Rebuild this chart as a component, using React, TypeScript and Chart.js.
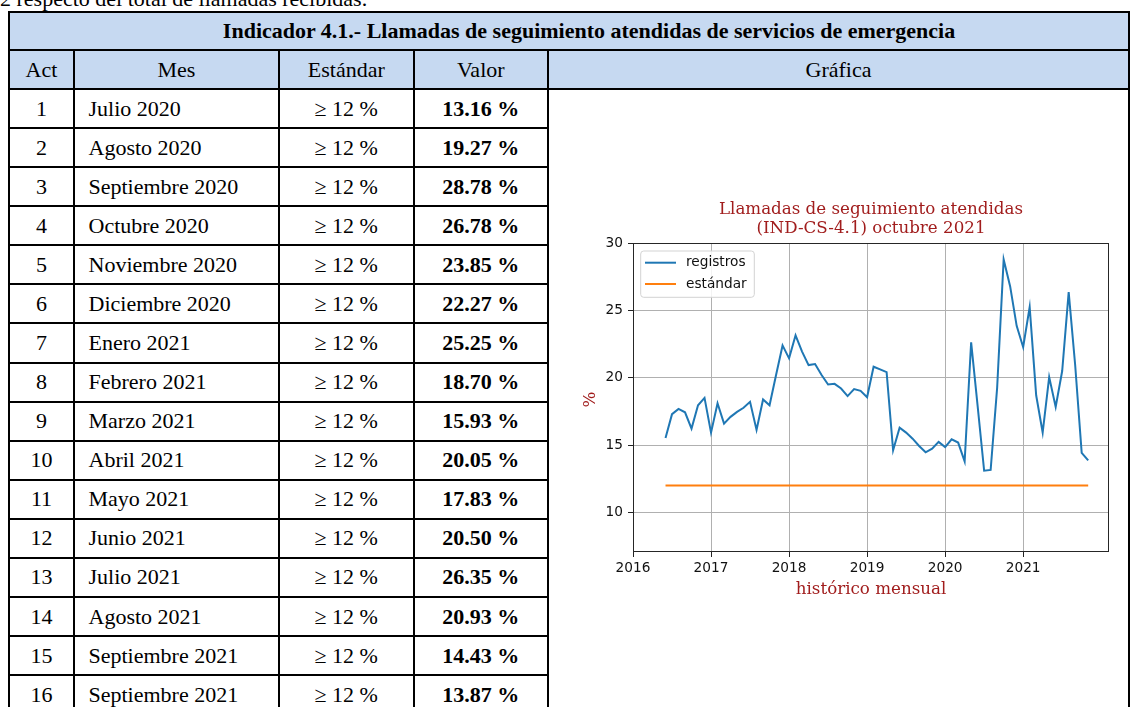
import React, { useEffect, useRef } from 'react';
import { Chart, registerables } from 'chart.js';

Chart.register(...registerables);

// ---------- Chart data ----------
const MONTHS_HIST = [
  '2016-05', '2016-06', '2016-07', '2016-08', '2016-09', '2016-10', '2016-11', '2016-12',
  '2017-01', '2017-02', '2017-03', '2017-04', '2017-05', '2017-06', '2017-07', '2017-08', '2017-09', '2017-10', '2017-11', '2017-12',
  '2018-01', '2018-02', '2018-03', '2018-04', '2018-05', '2018-06', '2018-07', '2018-08', '2018-09', '2018-10', '2018-11', '2018-12',
  '2019-01', '2019-02', '2019-03', '2019-04', '2019-05', '2019-06', '2019-07', '2019-08', '2019-09', '2019-10', '2019-11', '2019-12',
  '2020-01', '2020-02', '2020-03', '2020-04', '2020-05', '2020-06',
];
const REGISTROS_HIST = [
  15.53, 17.3, 17.69, 17.44, 16.23, 17.96, 18.51, 15.93,
  18.11, 16.6, 17.1, 17.47, 17.77, 18.21, 16.13, 18.39, 17.96, 20.2, 22.4, 21.44,
  23.15, 21.94, 20.94, 21.02, 20.2, 19.5, 19.55, 19.2, 18.64, 19.16, 19.03, 18.56,
  20.82, 20.62, 20.42, 14.62, 16.3, 15.93, 15.48, 14.94, 14.47, 14.74, 15.24, 14.86,
  15.43, 15.19, 13.8, 22.63, 17.9, 13.1,
];
const MONTHS_TABLE = [
  '2020-07', '2020-08', '2020-09', '2020-10', '2020-11', '2020-12',
  '2021-01', '2021-02', '2021-03', '2021-04', '2021-05', '2021-06',
  '2021-07', '2021-08', '2021-09', '2021-10',
];
const VALUES_TABLE = [
  13.16, 19.27, 28.78, 26.78, 23.85, 22.27, 25.25, 18.7,
  15.93, 20.05, 17.83, 20.5, 26.35, 20.93, 14.43, 13.87,
];
const ESTANDAR = 12;
const X_TICKS = [2016, 2017, 2018, 2019, 2020, 2021];
const Y_TICKS = [10, 15, 20, 25, 30];
const X_MIN = 2016;
const X_MAX = 2022.1;
const Y_MIN = 7.07;
const Y_MAX = 30;
const SERIES_LABELS = ['registros', 'estándar'];
const CHART_TITLE = ['Llamadas de seguimiento atendidas', '(IND-CS-4.1) octubre 2021'];
const X_LABEL = 'histórico mensual';
const Y_LABEL = '%';

// ---------- Table data ----------
const TABLE_TITLE = 'Indicador 4.1.- Llamadas de seguimiento atendidas de servicios de emergencia';
const TABLE_HEADERS = ['Act', 'Mes', 'Estándar', 'Valor', 'Gráfica'];
const TABLE_ACT = [1, 2, 3, 4, 5, 6, 7, 8, 9, 10, 11, 12, 13, 14, 15, 16];
const TABLE_MES = [
  'Julio 2020', 'Agosto 2020', 'Septiembre 2020', 'Octubre 2020', 'Noviembre 2020', 'Diciembre 2020',
  'Enero 2021', 'Febrero 2021', 'Marzo 2021', 'Abril 2021', 'Mayo 2021', 'Junio 2021',
  'Julio 2021', 'Agosto 2021', 'Septiembre 2021', 'Septiembre 2021',
];
const TABLE_STD = '≥ 12 %';
const TOP_TEXT = '2 respecto del total de llamadas recibidas.';

const MONTHS = [...MONTHS_HIST, ...MONTHS_TABLE];
const REGISTROS = [...REGISTROS_HIST, ...VALUES_TABLE];

const BLUE = '#1f77b4';
const ORANGE = '#ff7f0e';
const RED = '#a11d1d';
const HEADER_BG = '#c6d9f1';
const TABLE_FONT = '"Liberation Serif", serif';

const monthToYear = (m: string) => {
  const [y, mo] = m.split('-').map(Number);
  return y + mo / 12; // month-end
};

const decorPlugin = {
  id: 'decor',
  afterDatasetsDraw(chart: any) {
    const { ctx, chartArea: a } = chart;
    ctx.save();
    // spines
    ctx.strokeStyle = '#262626';
    ctx.lineWidth = 1;
    const L = Math.round(a.left) + 0.5, R = Math.round(a.right) - 0.5;
    const T = Math.round(a.top) + 0.5, B = Math.round(a.bottom) - 0.5;
    ctx.strokeRect(L, T, R - L, B - T);

    // legend
    const lx = a.left + 7.7, ly = a.top + 8, lw = 113.6, lh = 46.3, r = 3;
    ctx.beginPath();
    ctx.moveTo(lx + r, ly);
    ctx.lineTo(lx + lw - r, ly);
    ctx.quadraticCurveTo(lx + lw, ly, lx + lw, ly + r);
    ctx.lineTo(lx + lw, ly + lh - r);
    ctx.quadraticCurveTo(lx + lw, ly + lh, lx + lw - r, ly + lh);
    ctx.lineTo(lx + r, ly + lh);
    ctx.quadraticCurveTo(lx, ly + lh, lx, ly + lh - r);
    ctx.lineTo(lx, ly + r);
    ctx.quadraticCurveTo(lx, ly, lx + r, ly);
    ctx.closePath();
    ctx.fillStyle = 'rgba(255,255,255,0.85)';
    ctx.fill();
    ctx.strokeStyle = '#d3d3d3';
    ctx.lineWidth = 1;
    ctx.stroke();
    chart.data.datasets.forEach((ds: any, i: number) => {
      const y = a.top + 19.7 + i * 21.3;
      ctx.strokeStyle = ds.borderColor;
      ctx.lineWidth = 2;
      ctx.beginPath();
      ctx.moveTo(a.left + 12, y);
      ctx.lineTo(a.left + 43, y);
      ctx.stroke();
      ctx.fillStyle = '#111';
      ctx.font = '13.7px "DejaVu Sans"';
      ctx.textAlign = 'left';
      ctx.textBaseline = 'middle';
      ctx.fillText(ds.label, a.left + 53, y);
    });

    // titles
    const cx = (a.left + a.right) / 2;
    ctx.fillStyle = RED;
    ctx.font = '16.7px "DejaVu Serif"';
    ctx.textAlign = 'center';
    ctx.textBaseline = 'middle';
    ctx.fillText(CHART_TITLE[0], cx, a.top - 33);
    ctx.fillText(CHART_TITLE[1], cx, a.top - 14.7);
    ctx.fillText(X_LABEL, cx, a.bottom + 37.6);
    ctx.translate(a.left - 42, (a.top + a.bottom) / 2 + 2);
    ctx.rotate(-Math.PI / 2);
    ctx.fillText(Y_LABEL, 0, 0);
    ctx.restore();
  },
};

function LineChart() {
  const ref = useRef<HTMLCanvasElement | null>(null);
  useEffect(() => {
    if (!ref.current) return;
    const xs = MONTHS.map(monthToYear);
    const chart = new Chart(ref.current, {
      type: 'line',
      data: {
        datasets: [
          {
            label: SERIES_LABELS[0],
            data: xs.map((x, i) => ({ x, y: REGISTROS[i] })),
            borderColor: BLUE,
            backgroundColor: BLUE,
            borderWidth: 2,
            pointRadius: 0,
            tension: 0,
            order: 1,
          },
          {
            label: SERIES_LABELS[1],
            data: xs.map((x) => ({ x, y: ESTANDAR })),
            borderColor: ORANGE,
            backgroundColor: ORANGE,
            borderWidth: 2,
            pointRadius: 0,
            tension: 0,
            order: 0,
          },
        ],
      },
      options: {
        responsive: false,
        animation: false,
        devicePixelRatio: 1,
        layout: { padding: { top: 53, right: 11, left: 0, bottom: 0 } },
        plugins: {
          legend: { display: false },
          title: { display: false },
          tooltip: { enabled: false },
        },
        scales: {
          x: {
            type: 'linear',
            min: X_MIN,
            max: X_MAX,
            afterBuildTicks: (s: any) => { s.ticks = X_TICKS.map((v) => ({ value: v })); },
            afterFit: (s: any) => { s.height = 58; },
            grid: { color: '#b0b0b0', lineWidth: 1, tickLength: 5, tickColor: '#222', tickWidth: 1 },
            border: { display: false },
            ticks: {
              color: '#111',
              font: { family: 'DejaVu Sans', size: 13.7 },
              padding: 3,
              maxRotation: 0,
              callback: (v: any) => String(v),
            },
          },
          y: {
            type: 'linear',
            min: Y_MIN,
            max: Y_MAX,
            afterBuildTicks: (s: any) => { s.ticks = Y_TICKS.map((v) => ({ value: v })); },
            afterFit: (s: any) => { s.width = 73; },
            grid: { color: '#b0b0b0', lineWidth: 1, tickLength: 5, tickColor: '#222', tickWidth: 1 },
            border: { display: false },
            ticks: {
              color: '#111',
              font: { family: 'DejaVu Sans', size: 13.7 },
              padding: 5,
              callback: (v: any) => String(v),
            },
          },
        },
      },
      plugins: [decorPlugin],
    } as any);
    return () => chart.destroy();
  }, []);
  return (
    <canvas
      ref={ref}
      width={560}
      height={420}
      style={{ position: 'absolute', left: 560, top: 190, width: 560, height: 420 }}
    />
  );
}

// table grid geometry (page px, centres of the 2px rules)
const COLS = [9, 74, 279, 413.5, 548, 1129];
const TITLE_TOP = 12;
const HEAD_TOP = 50;
const BODY_TOP = 89;
const ROW_H = 39.08;

function Cell(props: {
  x1: number; x2: number; y1: number; y2: number;
  bg?: string; align?: 'center' | 'left'; bold?: boolean; padLeft?: number; children?: any;
}) {
  const { x1, x2, y1, y2, bg, align = 'center', bold, padLeft = 0, children } = props;
  return (
    <div
      style={{
        position: 'absolute',
        left: x1 - 1,
        top: y1 - 1,
        width: x2 - x1 + 2,
        height: y2 - y1 + 2,
        boxSizing: 'border-box',
        border: '2px solid #000',
        background: bg || '#fff',
        display: 'flex',
        alignItems: 'center',
        justifyContent: align === 'center' ? 'center' : 'flex-start',
        paddingLeft: padLeft,
        fontFamily: TABLE_FONT,
        fontSize: 22,
        fontWeight: bold ? 700 : 400,
        color: '#000',
        whiteSpace: 'nowrap',
        lineHeight: 1,
      }}
    >
      {children}
    </div>
  );
}

export default function App() {
  const rows = TABLE_ACT.map((act, i) => {
    const y1 = BODY_TOP + i * ROW_H;
    const y2 = y1 + ROW_H;
    return (
      <React.Fragment key={i}>
        <Cell x1={COLS[0]} x2={COLS[1]} y1={y1} y2={y2}>{act}</Cell>
        <Cell x1={COLS[1]} x2={COLS[2]} y1={y1} y2={y2} align="left" padLeft={13.5}>{TABLE_MES[i]}</Cell>
        <Cell x1={COLS[2]} x2={COLS[3]} y1={y1} y2={y2}>{TABLE_STD}</Cell>
        <Cell x1={COLS[3]} x2={COLS[4]} y1={y1} y2={y2} bold>
          {VALUES_TABLE[i].toFixed(2) + ' %'}
        </Cell>
      </React.Fragment>
    );
  });
  return (
    <div
      style={{
        position: 'absolute',
        left: 0,
        top: 0,
        width: 1132,
        height: 707,
        overflow: 'hidden',
        background: '#fff',
      }}
    >
      <div
        style={{
          position: 'absolute',
          left: 0,
          top: -12.4,
          fontFamily: TABLE_FONT,
          fontSize: 22,
          lineHeight: 1,
          whiteSpace: 'nowrap',
          color: '#000',
        }}
      >
        {TOP_TEXT}
      </div>
      <Cell x1={COLS[0]} x2={COLS[5]} y1={TITLE_TOP} y2={HEAD_TOP} bg={HEADER_BG} bold padLeft={40}>
        {TABLE_TITLE}
      </Cell>
      {TABLE_HEADERS.map((h, i) => (
        <Cell key={h} x1={COLS[i]} x2={COLS[i + 1]} y1={HEAD_TOP} y2={BODY_TOP} bg={HEADER_BG}>
          {h}
        </Cell>
      ))}
      {rows}
      <Cell x1={COLS[4]} x2={COLS[5]} y1={BODY_TOP} y2={BODY_TOP + 20 * ROW_H} />
      <LineChart />
    </div>
  );
}
